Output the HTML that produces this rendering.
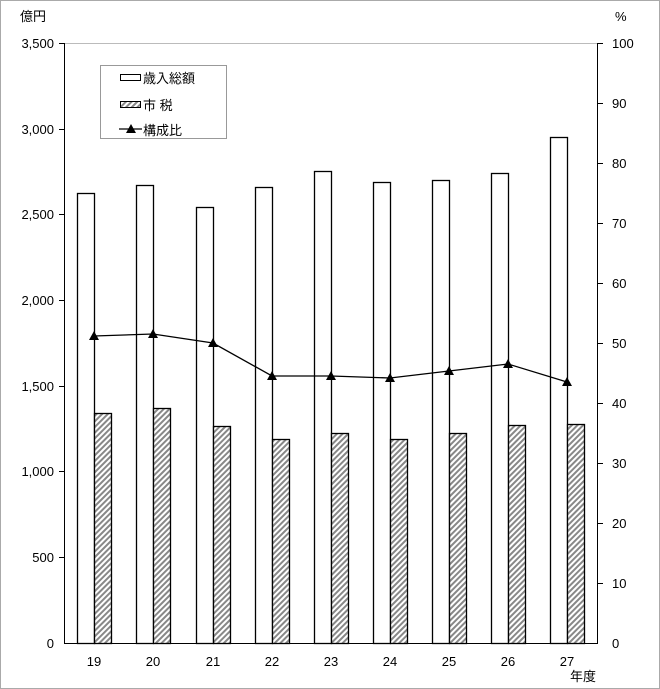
<html><head><style>body{margin:0;background:#fff}svg{display:block}text{font-family:"Liberation Sans","Noto Sans CJK JP",sans-serif;font-size:13px;fill:#000}</style></head><body>
<svg width="660" height="689" viewBox="0 0 660 689">
<defs><pattern id="h" width="4" height="4" patternUnits="userSpaceOnUse" patternTransform="rotate(45)"><rect width="4" height="4" fill="#fff"/><rect width="2" height="4" fill="#888"/></pattern></defs>
<rect x="0.5" y="0.5" width="659" height="688" fill="#fff" stroke="#aaa"/>
<line x1="64" y1="43.5" x2="598" y2="43.5" stroke="#bbb"/>
<g stroke="#000" stroke-width="1" fill="none">
<line x1="64.5" y1="43" x2="64.5" y2="643"/><line x1="597.5" y1="43" x2="597.5" y2="643"/>
<line x1="64" y1="643.5" x2="598" y2="643.5"/>
</g>
<g stroke="#000">
<line x1="59" y1="43.5" x2="64" y2="43.5"/><line x1="59" y1="129.5" x2="64" y2="129.5"/><line x1="59" y1="214.5" x2="64" y2="214.5"/><line x1="59" y1="300.5" x2="64" y2="300.5"/><line x1="59" y1="386.5" x2="64" y2="386.5"/><line x1="59" y1="471.5" x2="64" y2="471.5"/><line x1="59" y1="557.5" x2="64" y2="557.5"/>
<line x1="598" y1="43.5" x2="603" y2="43.5"/><line x1="598" y1="103.5" x2="603" y2="103.5"/><line x1="598" y1="163.5" x2="603" y2="163.5"/><line x1="598" y1="223.5" x2="603" y2="223.5"/><line x1="598" y1="283.5" x2="603" y2="283.5"/><line x1="598" y1="343.5" x2="603" y2="343.5"/><line x1="598" y1="403.5" x2="603" y2="403.5"/><line x1="598" y1="463.5" x2="603" y2="463.5"/><line x1="598" y1="523.5" x2="603" y2="523.5"/><line x1="598" y1="583.5" x2="603" y2="583.5"/>
</g>
<g text-anchor="end">
<text x="54" y="48">3,500</text><text x="54" y="134">3,000</text><text x="54" y="219">2,500</text><text x="54" y="305">2,000</text><text x="54" y="391">1,500</text><text x="54" y="476">1,000</text><text x="54" y="562">500</text><text x="54" y="648">0</text>
</g>
<g>
<text x="612" y="48">100</text><text x="612" y="108">90</text><text x="612" y="168">80</text><text x="612" y="228">70</text><text x="612" y="288">60</text><text x="612" y="348">50</text><text x="612" y="408">40</text><text x="612" y="468">30</text><text x="612" y="528">20</text><text x="612" y="588">10</text><text x="612" y="648">0</text>
</g>
<text x="20" y="21">億円</text><text x="615" y="21">%</text>
<g stroke="#000" stroke-width="1.3">
<rect x="77.5" y="193.5" width="17" height="450" fill="#fff"/>
<rect x="136.5" y="185.5" width="17" height="458" fill="#fff"/>
<rect x="196.5" y="207.5" width="17" height="436" fill="#fff"/>
<rect x="255.5" y="187.5" width="17" height="456" fill="#fff"/>
<rect x="314.5" y="171.5" width="17" height="472" fill="#fff"/>
<rect x="373.5" y="182.5" width="17" height="461" fill="#fff"/>
<rect x="432.5" y="180.5" width="17" height="463" fill="#fff"/>
<rect x="491.5" y="173.5" width="17" height="470" fill="#fff"/>
<rect x="550.5" y="137.5" width="17" height="506" fill="#fff"/>
<rect x="94.5" y="413.5" width="17" height="230" fill="url(#h)"/>
<rect x="153.5" y="408.5" width="17" height="235" fill="url(#h)"/>
<rect x="213.5" y="426.5" width="17" height="217" fill="url(#h)"/>
<rect x="272.5" y="439.5" width="17" height="204" fill="url(#h)"/>
<rect x="331.5" y="433.5" width="17" height="210" fill="url(#h)"/>
<rect x="390.5" y="439.5" width="17" height="204" fill="url(#h)"/>
<rect x="449.5" y="433.5" width="17" height="210" fill="url(#h)"/>
<rect x="508.5" y="425.5" width="17" height="218" fill="url(#h)"/>
<rect x="567.5" y="424.5" width="17" height="219" fill="url(#h)"/>
</g>
<polyline points="94,336 153,334 213,343 272,376 331,376 390,378 449,371 508,364 567,382" fill="none" stroke="#000" stroke-width="1.3"/>
<g fill="#000">
<polygon points="94,331 89,340 99,340"/><polygon points="153,329 148,338 158,338"/><polygon points="213,338 208,347 218,347"/><polygon points="272,371 267,380 277,380"/><polygon points="331,371 326,380 336,380"/><polygon points="390,373 385,382 395,382"/><polygon points="449,366 444,375 454,375"/><polygon points="508,359 503,368 513,368"/><polygon points="567,377 562,386 572,386"/>
</g>
<g text-anchor="middle">
<text x="94" y="666">19</text><text x="153" y="666">20</text><text x="213" y="666">21</text><text x="272" y="666">22</text><text x="331" y="666">23</text><text x="390" y="666">24</text><text x="449" y="666">25</text><text x="508" y="666">26</text><text x="567" y="666">27</text>
</g>
<text x="570" y="681">年度</text>
<rect x="100.5" y="65.5" width="126" height="73" fill="#fff" stroke="#999"/>
<rect x="120.5" y="74.5" width="20" height="6" fill="#fff" stroke="#000"/>
<rect x="120.5" y="101.5" width="20" height="6" fill="url(#h)" stroke="#000"/>
<line x1="119" y1="129" x2="142" y2="129" stroke="#000" stroke-width="1.3"/>
<polygon points="131,124 126,133 136,133" fill="#000"/>
<g style="font-size:14px"><text x="143" y="83">歳入総額</text><text x="143" y="110">市 税</text><text x="143" y="135">構成比</text></g>
</svg></body></html>
